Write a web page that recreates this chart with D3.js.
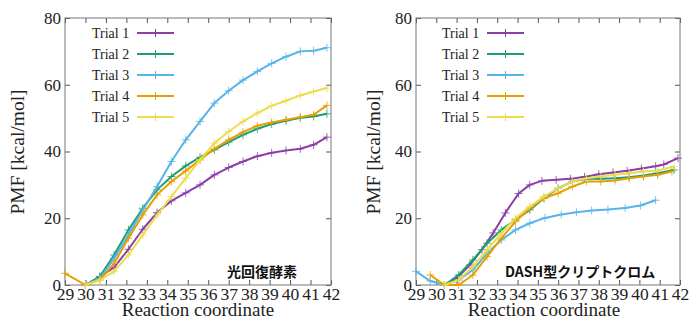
<!DOCTYPE html>
<html>
<head>
<meta charset="utf-8">
<script src="https://cdn.jsdelivr.net/npm/d3@7"></script>
<style>
  html, body { margin: 0; padding: 0; background: #fff; }
  svg { display: block; }
</style>
</head>
<body>
<svg id="chart" width="689" height="320"></svg>
<script>
// ---------- DATA ----------
const seriesNames = ["Trial 1", "Trial 2", "Trial 3", "Trial 4", "Trial 5"];
const seriesColors = ["#8a3fa6", "#1a9e78", "#56b4e9", "#e69f00", "#ecdd4c"];
const xTicks = [29, 30, 31, 32, 33, 34, 35, 36, 37, 38, 39, 40, 41, 42];
const yTicks = [0, 20, 40, 60, 80];
const panelLabels = ["光回復酵素", "DASH型クリプトクロム"];

// Left panel (光回復酵素)
const leftX = [30, 30.7, 31.4, 32.1, 32.8, 33.5, 34.2, 34.9, 35.6, 36.3, 37.0, 37.7, 38.4, 39.1, 39.8, 40.5, 41.15, 41.8];
const leftX4 = [29, 30, 30.7, 31.4, 32.1, 32.8, 33.5, 34.2, 34.9, 35.6, 36.3, 37.0, 37.7, 38.4, 39.1, 39.8, 40.5, 41.15, 41.8];
const leftT1 = [0, 2.5, 5.3, 10.7, 16.7, 21.7, 25.2, 27.6, 30, 33, 35.2, 37, 38.6, 39.6, 40.3, 40.8, 42, 44.3];
const leftT2 = [0, 2.5, 9, 16.5, 23, 28.5, 32.5, 35.7, 38.3, 40.5, 42.8, 45, 46.8, 48.2, 49.2, 50.1, 50.5, 51.3];
const leftT3 = [0, 2, 8, 15, 22.5, 29.5, 37, 43.5, 49, 54.5, 58.2, 61.4, 64, 66.4, 68.4, 70, 70.2, 71.1];
const leftT4 = [3.5, 0, 1.5, 6.5, 14, 21, 27, 31, 34.2, 37.5, 40.8, 43.5, 45.8, 47.7, 48.7, 49.5, 50.3, 51, 53.8];
const leftT5 = [0, 1.5, 4, 9, 15, 21, 26.5, 32, 37.5, 42.5, 46, 49, 51.5, 53.7, 55.2, 56.8, 58, 59];

// Right panel (DASH型クリプトクロム)
const rightX = [30.4, 31.1, 31.8, 32.5, 33.2, 33.9, 34.6, 35.3, 36.0, 36.7, 37.4, 38.1, 38.8, 39.5, 40.2, 40.9, 41.7];
const rightX1 = [30.4, 31.0, 31.65, 32.25, 32.8, 33.4, 34.05, 34.6, 35.2, 35.9, 36.6, 37.3, 38.0, 38.7, 39.4, 40.1, 40.8, 41.2, 41.9];
const rightX3 = [29, 29.7, 30.4, 31.1, 31.8, 32.5, 33.2, 33.9, 34.6, 35.35, 36.15, 36.9, 37.65, 38.45, 39.3, 40.05, 40.8];
const rightX4 = [29.7, 30.4, 31.1, 31.8, 32.5, 33.2, 33.9, 34.6, 35.3, 36.0, 36.7, 37.4, 38.1, 38.8, 39.5, 40.2, 40.9, 41.6];
const rightT1 = [0, 2, 6, 10.6, 15.6, 21.6, 27.4, 30, 31.2, 31.5, 31.8, 32.4, 33.2, 33.7, 34.2, 34.9, 35.6, 36.1, 38];
const rightT2 = [0, 3, 7.5, 12.5, 16.5, 19.5, 22.5, 26, 29, 31, 31.8, 31.8, 32, 32.3, 32.8, 33.5, 34.5];
const rightT3 = [4.1, 1.2, 0, 1.5, 4.5, 9.5, 13.5, 16.5, 18.5, 20.1, 21.1, 21.8, 22.3, 22.6, 23.1, 23.8, 25.4];
const rightT4 = [3, 0, 0, 3, 8.5, 14, 19, 23, 26, 27.5, 29.5, 31, 31, 31.3, 32, 32.5, 33, 34];
const rightT5 = [0, 1.5, 5.5, 10.5, 15.5, 20, 23.5, 26.5, 29, 31, 32, 32.5, 33, 33.5, 34, 34.3, 35.5];

// ---------- BUILD ----------
const zip = (xs, ys) => xs.map((x, i) => ({ x, y: ys[i] }));
const panels = [
  {
    left: 65, right: 331, top: 18, bottom: 285,
    label: panelLabels[0], labelX: 227, legendX: 92, titleX: 198, yTitleX: 24,
    series: [zip(leftX, leftT1), zip(leftX, leftT2), zip(leftX, leftT3), zip(leftX4, leftT4), zip(leftX, leftT5)]
  },
  {
    left: 416, right: 680, top: 18, bottom: 285,
    label: panelLabels[1], labelX: 505, legendX: 442, titleX: 544, yTitleX: 380,
    series: [zip(rightX1, rightT1), zip(rightX, rightT2), zip(rightX3, rightT3), zip(rightX4, rightT4), zip(rightX, rightT5)]
  }
];

const svg = d3.select("#chart");
const serif = "'Liberation Serif', 'Times New Roman', serif";

panels.forEach(p => {
  const x = d3.scaleLinear().domain([29, 42]).range([p.left, p.right]);
  const y = d3.scaleLinear().domain([0, 80]).range([p.bottom, p.top]);
  const g = svg.append("g");

  const axStyle = sel => {
    sel.attr("font-family", serif);
    sel.select(".domain").remove();
    sel.selectAll(".tick line").attr("stroke", "#555").attr("stroke-width", 1);
  };
  g.append("g").attr("transform", `translate(0,${p.bottom})`)
    .call(d3.axisBottom(x).tickValues(xTicks).tickSize(-5).tickPadding(3).tickFormat(d3.format("d")))
    .call(axStyle)
    .selectAll("text").attr("font-family", serif).attr("font-size", 17.5).attr("fill", "#222").attr("dy", "0.71em");
  g.append("g").attr("transform", `translate(0,${p.top})`)
    .call(d3.axisTop(x).tickValues(xTicks).tickSize(-5).tickFormat(""))
    .call(axStyle);
  g.append("g").attr("transform", `translate(${p.left},0)`)
    .call(d3.axisLeft(y).tickValues(yTicks).tickSize(-5).tickPadding(4).tickFormat(d3.format("d")))
    .call(axStyle)
    .selectAll("text").attr("font-family", serif).attr("font-size", 17).attr("fill", "#222");
  g.append("g").attr("transform", `translate(${p.right},0)`)
    .call(d3.axisRight(y).tickValues(yTicks).tickSize(-5).tickFormat(""))
    .call(axStyle);

  g.append("rect").attr("x", p.left).attr("y", p.top)
    .attr("width", p.right - p.left).attr("height", p.bottom - p.top)
    .attr("fill", "none").attr("stroke", "#777").attr("stroke-width", 1);

  g.append("text").attr("x", p.titleX).attr("y", 315.5)
    .attr("text-anchor", "middle").attr("font-family", serif).attr("font-size", 19).attr("fill", "#222")
    .text("Reaction coordinate");
  g.append("text")
    .attr("transform", `translate(${p.yTitleX},152) rotate(-90)`)
    .attr("text-anchor", "middle").attr("font-family", serif).attr("font-size", 19.5).attr("fill", "#222")
    .text("PMF [kcal/mol]");

  g.append("text").attr("x", p.labelX).attr("y", 277)
    .attr("font-family", "'Noto Sans CJK JP', 'Noto Sans', sans-serif").attr("font-weight", 700)
    .attr("font-size", 14).attr("fill", "#111")
    .text(p.label);

  const line = d3.line().x(d => x(d.x)).y(d => y(d.y));
  p.series.forEach((pts, i) => {
    const c = seriesColors[i];
    const sg = g.append("g");
    sg.append("path").datum(pts).attr("d", line)
      .attr("fill", "none").attr("stroke", c).attr("stroke-width", 2).attr("stroke-linejoin", "round");
    sg.selectAll("path.m").data(pts).join("path").attr("class", "m")
      .attr("d", d => `M${x(d.x) - 4},${y(d.y)}H${x(d.x) + 4}M${x(d.x)},${y(d.y) - 4}V${y(d.y) + 4}`)
      .attr("stroke", c).attr("stroke-width", 1).attr("opacity", 0.8);
  });

  seriesNames.forEach((name, i) => {
    const ly = 33 + i * 21;
    const lg = g.append("g");
    lg.append("text").attr("x", p.legendX).attr("y", ly).attr("dy", "0.35em")
      .attr("font-family", serif).attr("font-size", 14).attr("fill", "#222").text(name);
    const lx0 = p.legendX + 45, lx1 = p.legendX + 82, lm = (lx0 + lx1) / 2;
    lg.append("line").attr("x1", lx0).attr("x2", lx1).attr("y1", ly).attr("y2", ly)
      .attr("stroke", seriesColors[i]).attr("stroke-width", 2);
    lg.append("path").attr("d", `M${lm - 4},${ly}H${lm + 4}M${lm},${ly - 4}V${ly + 4}`)
      .attr("stroke", seriesColors[i]).attr("stroke-width", 1);
  });
});
</script>
</body>
</html>
